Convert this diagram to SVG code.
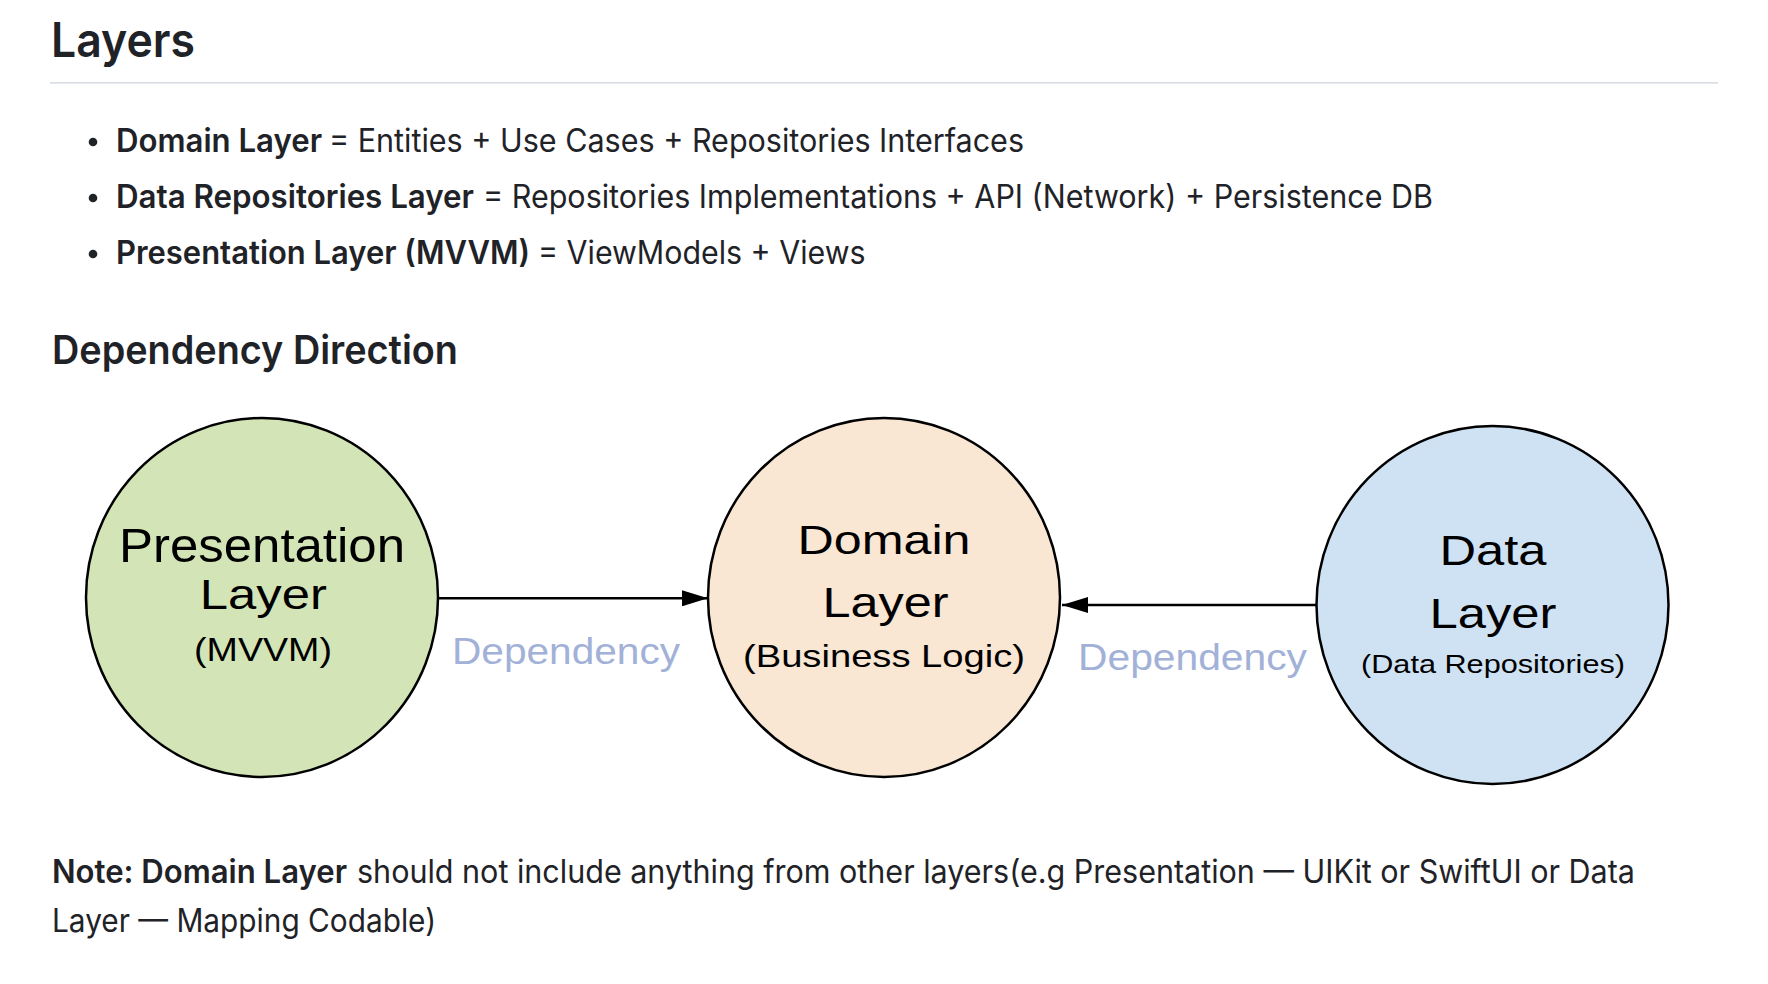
<svg xmlns="http://www.w3.org/2000/svg" width="1768" height="984" viewBox="0 0 1768 984">
<style>
.doc{font-family:Inter,"Noto Sans","Liberation Sans",sans-serif;fill:#1f2328;font-size:32px}
.b{font-weight:600}
.h2{font-size:48px;font-weight:600}
.h3{font-size:40px;font-weight:600}
.lbl{font-family:"Liberation Sans",Arial,sans-serif;fill:#000;text-anchor:middle}
.dep{font-family:"Liberation Sans",Arial,sans-serif;fill:#a2b1d7;font-size:37px}
.node{stroke:#000;stroke-width:2.5}
.edge{stroke:#000;stroke-width:2.5;fill:none}
</style>
<defs>
<marker id="arr" viewBox="0 0 26 16" refX="26" refY="8" markerWidth="26" markerHeight="16" markerUnits="userSpaceOnUse" orient="auto">
<path d="M0,0 L26,8 L0,16 z" fill="#000"/>
</marker>
</defs>
<rect width="1768" height="984" fill="#fff"/>

<g id="header">
<text class="doc h2" x="51" y="57" textLength="144" lengthAdjust="spacingAndGlyphs">Layers</text>
<rect x="50" y="82" width="1668" height="1.6" fill="#d8dee4"/>
<circle cx="93" cy="142" r="4.3" fill="#1f2328"/>
<text class="doc b" x="116" y="152.3" textLength="206" lengthAdjust="spacingAndGlyphs">Domain Layer</text>
<text class="doc" x="329" y="152.3" textLength="695" lengthAdjust="spacingAndGlyphs">= Entities + Use Cases + Repositories Interfaces</text>
<circle cx="93" cy="198" r="4.3" fill="#1f2328"/>
<text class="doc b" x="116" y="208.3" textLength="358" lengthAdjust="spacingAndGlyphs">Data Repositories Layer</text>
<text class="doc" x="483" y="208.3" textLength="950" lengthAdjust="spacingAndGlyphs">= Repositories Implementations + API (Network) + Persistence DB</text>
<circle cx="93" cy="254" r="4.3" fill="#1f2328"/>
<text class="doc b" x="116" y="264.3" textLength="414" lengthAdjust="spacingAndGlyphs">Presentation Layer (MVVM)</text>
<text class="doc" x="538" y="264.3" textLength="327.5" lengthAdjust="spacingAndGlyphs">= ViewModels + Views</text>
<text class="doc h3" x="52" y="364" textLength="406" lengthAdjust="spacingAndGlyphs">Dependency Direction</text>
</g>

<g id="connectors">
<line class="edge" x1="438" y1="598.3" x2="708" y2="598.3" marker-end="url(#arr)"/>
<text class="dep" x="452" y="664" textLength="228" lengthAdjust="spacingAndGlyphs">Dependency</text>
<line class="edge" x1="1316.5" y1="605" x2="1062" y2="605" marker-end="url(#arr)"/>
<text class="dep" x="1078" y="670" textLength="229" lengthAdjust="spacingAndGlyphs">Dependency</text>
</g>

<g id="presentation">
<ellipse class="node" cx="262" cy="597.5" rx="176" ry="179.5" fill="#d3e5b7"/>
<text class="lbl" x="262" y="562" font-size="48" textLength="286" lengthAdjust="spacingAndGlyphs">Presentation</text>
<text class="lbl" x="263.3" y="609" font-size="42" textLength="127" lengthAdjust="spacingAndGlyphs">Layer</text>
<text class="lbl" x="263" y="661" font-size="33" textLength="138" lengthAdjust="spacingAndGlyphs">(MVVM)</text>
</g>

<g id="domain">
<ellipse class="node" cx="884" cy="597.5" rx="176" ry="179.5" fill="#f9e6d3"/>
<text class="lbl" x="884" y="554" font-size="41" textLength="173" lengthAdjust="spacingAndGlyphs">Domain</text>
<text class="lbl" x="885.5" y="617" font-size="42" textLength="126" lengthAdjust="spacingAndGlyphs">Layer</text>
<text class="lbl" x="884" y="667" font-size="32" textLength="282" lengthAdjust="spacingAndGlyphs">(Business Logic)</text>
</g>

<g id="data">
<ellipse class="node" cx="1492.5" cy="605" rx="176" ry="179" fill="#cfe2f3"/>
<text class="lbl" x="1493" y="565" font-size="43" textLength="107" lengthAdjust="spacingAndGlyphs">Data</text>
<text class="lbl" x="1493" y="628" font-size="42" textLength="127" lengthAdjust="spacingAndGlyphs">Layer</text>
<text class="lbl" x="1493" y="673" font-size="25" textLength="264" lengthAdjust="spacingAndGlyphs">(Data Repositories)</text>
</g>

<g id="note">
<text class="doc b" x="52" y="883.3" textLength="295" lengthAdjust="spacingAndGlyphs">Note: Domain Layer</text>
<text class="doc" x="357" y="883.3" textLength="1278" lengthAdjust="spacingAndGlyphs">should not include anything from other layers(e.g Presentation — UIKit or SwiftUI or Data</text>
<text class="doc" x="52" y="931.7" textLength="384" lengthAdjust="spacingAndGlyphs">Layer — Mapping Codable)</text>
</g>
</svg>
